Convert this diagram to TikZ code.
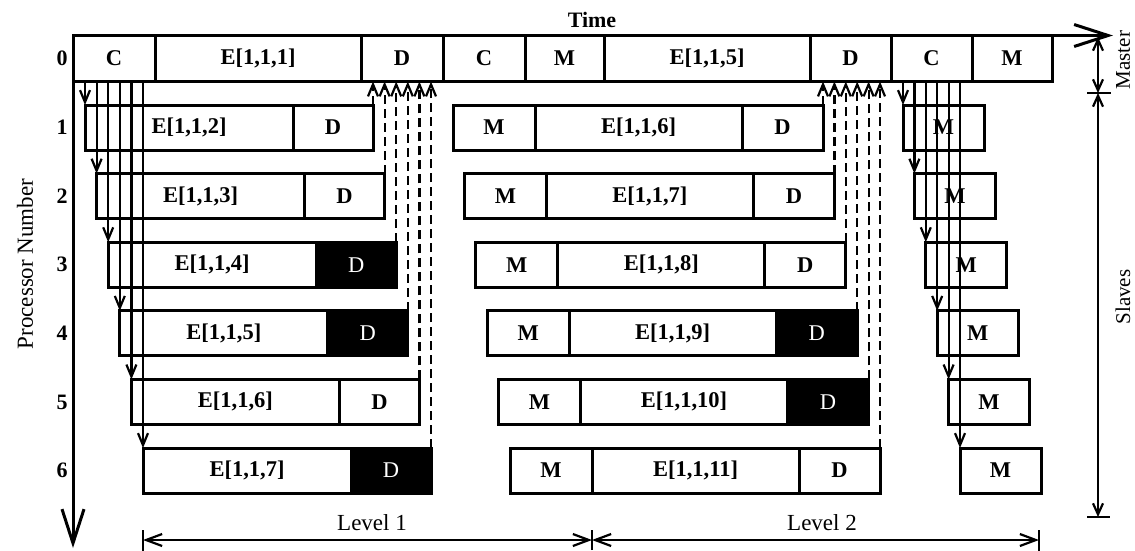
\documentclass[tikz,border=0pt]{standalone}
\usepackage{fontspec}
\setmainfont{Liberation Serif}
\usetikzlibrary{arrows.meta}
\begin{document}
\begin{tikzpicture}[x=1pt,y=-1pt,
  cell/.style={draw, line width=3pt, minimum height=45pt, inner sep=0pt, outer sep=0pt,
    anchor=north west, font=\bfseries\fontsize{22.5}{22.5}\selectfont},
  mcell/.style={cell, minimum height=46pt},
  bcell/.style={cell, fill=black, text=white, font=\fontsize{22.5}{22.5}\selectfont},
  sarr/.style={line width=2.2pt, -{Straight Barb[length=12pt,width=10pt]}},
  darr/.style={line width=2.2pt, dash pattern=on 9pt off 5pt, -{Straight Barb[length=12pt,width=10pt]}},
  bigarr/.style={line width=3pt, -{Straight Barb[length=34pt,width=22pt]}},
  dbl/.style={line width=2.2pt, {Straight Barb[length=11pt,width=10pt]}-{Straight Barb[length=11pt,width=10pt]}},
  lvarr/.style={line width=2.2pt, {Straight Barb[length=16pt,width=12pt]}-{Straight Barb[length=16pt,width=12pt]}},
  barline/.style={line width=2.5pt},
  lbl/.style={font=\fontsize{23}{23}\selectfont},
  slbl/.style={font=\fontsize{21}{21}\selectfont, inner sep=1pt, rotate=90},
  num/.style={font=\bfseries\fontsize{22}{22}\selectfont}]
\useasboundingbox[fill=white] (0,0) rectangle (1135,550);

% master row
\node[mcell, minimum width=82pt] (mC1) at (73,35.5) {C};
\node[mcell, minimum width=206pt] (mE1) at (mC1.north east) {E[1,1,1]};
\node[mcell, minimum width=82pt] (mD1) at (mE1.north east) {D};
\node[mcell, minimum width=82pt] (mC2) at (mD1.north east) {C};
\node[mcell, minimum width=79pt] (mM2) at (mC2.north east) {M};
\node[mcell, minimum width=206pt] (mE2) at (mM2.north east) {E[1,1,5]};
\node[mcell, minimum width=81pt] (mD2) at (mE2.north east) {D};
\node[mcell, minimum width=81pt] (mC3) at (mD2.north east) {C};
\node[mcell, minimum width=80pt] (mM3) at (mC3.north east) {M};

% row numbers
\node[num] (n0) at (62,58.5) {0};
\foreach \i in {1,...,6}{
  \pgfmathsetmacro\cy{127.5+(\i-1)*68.6}
  \node[num] (n\i) at (62,\cy) {\i};
}

% level 1
\foreach \i/\st in {1/cell,2/cell,3/bcell,4/bcell,5/cell,6/bcell}{
  \pgfmathsetmacro\lx{85+(\i-1)*11.6}
  \pgfmathsetmacro\ty{105+(\i-1)*68.6}
  \pgfmathtruncatemacro\en{\i+1}
  \node[cell, minimum width=208pt] (aE\i) at (\lx,\ty) {E[1,1,\en]};
  \node[\st, minimum width=80pt] (aD\i) at (aE\i.north east) {D};
}
% level 2
\foreach \i/\st in {1/cell,2/cell,3/cell,4/bcell,5/bcell,6/cell}{
  \pgfmathsetmacro\lx{453+(\i-1)*11.4}
  \pgfmathsetmacro\ty{105+(\i-1)*68.6}
  \pgfmathtruncatemacro\en{\i+5}
  \node[cell, minimum width=82pt] (bM\i) at (\lx,\ty) {M};
  \node[cell, minimum width=207pt] (bE\i) at (bM\i.north east) {E[1,1,\en]};
  \node[\st, minimum width=81pt] (bD\i) at (bE\i.north east) {D};
}
% level 3
\foreach \i in {1,...,6}{
  \pgfmathsetmacro\lx{903+(\i-1)*11.4}
  \pgfmathsetmacro\ty{105+(\i-1)*68.6}
  \node[cell, minimum width=81pt] (cM\i) at (\lx,\ty) {M};
}

% connectors
\foreach \i in {1,...,6}{
  \draw[sarr] (aE\i.north west |- mC1.south) -- (aE\i.north west);
  \draw[darr] (aD\i.north east) -- (aD\i.north east |- mD1.south);
  \draw[darr] (bD\i.north east) -- (bD\i.north east |- mD2.south);
  \draw[sarr] (cM\i.north west |- mC3.south) -- (cM\i.north west);
}

% axes
\coordinate (tend) at (1113,35.5);
\coordinate (pend) at (73,548);
\draw[bigarr] (mC1.north west) -- (tend);
\draw[bigarr] (mC1.south west) -- (pend);
\node[anchor=base, font=\bfseries\fontsize{22}{22}\selectfont] (time) at (592,27) {Time};
\node[lbl, rotate=90] (proc) at (25,264) {Processor Number};

% master / slaves
\coordinate (ms1) at (1098,37);
\coordinate (ms2) at (1098,93);
\coordinate (ms3) at (1098,517);
\draw[dbl] (ms1) -- (ms2);
\draw[dbl] (ms2) -- (ms3);
\draw[barline] ([xshift=-11pt]ms2) -- ([xshift=13pt]ms2);
\draw[barline] ([xshift=-11pt]ms3) -- ([xshift=12pt]ms3);
\node[slbl] (master) at (1123,60) {Master};
\node[slbl] (slaves) at (1123,297) {Slaves};

% levels
\coordinate (lA) at (143,540);
\coordinate (lB) at (592,540);
\coordinate (lC) at (1039,540);
\draw[lvarr] (lA) -- (lB);
\draw[lvarr] (lB) -- (lC);
\draw[barline] ([yshift=-12pt]lA) -- ([yshift=10pt]lA);
\draw[barline] ([yshift=-10pt]lB) -- ([yshift=10pt]lB);
\draw[barline] ([yshift=-12pt]lC) -- ([yshift=10pt]lC);
\node[lbl, anchor=base] (lev1) at (372,530) {Level 1};
\node[lbl, anchor=base] (lev2) at (822,530) {Level 2};
\end{tikzpicture}
\end{document}
